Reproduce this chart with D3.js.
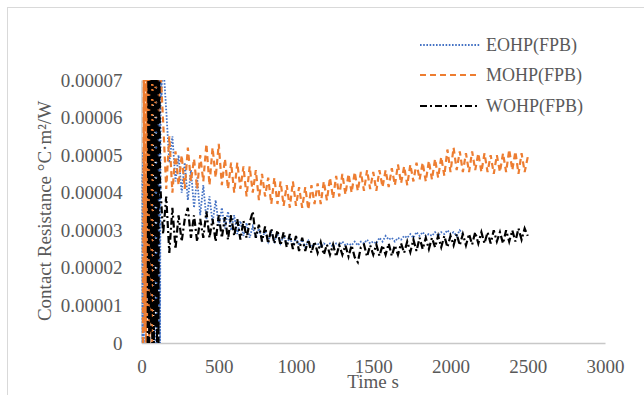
<!DOCTYPE html>
<html>
<head>
<meta charset="utf-8">
<script src="https://cdn.jsdelivr.net/npm/d3@7"></script>
<style>
  body { margin: 0; background: #fff; }
  svg { display: block; }
</style>
</head>
<body>
<div id="chart"></div>
<script>
// axis ticks
const xTicks = [0, 500, 1000, 1500, 2000, 2500, 3000];
const yTicks = [0, 0.00001, 0.00002, 0.00003, 0.00004, 0.00005, 0.00006, 0.00007];
const seriesNames = ["EOHP(FPB)", "MOHP(FPB)", "WOHP(FPB)"];

// values are read in units of 1e-5 °C·m²/W
const unit = 1e-5;

// start-up oscillation, sampled every 5 s
const earlyStep = 5;
const eohpEarlyStart = 0;
const eohpEarly = [4.5, 0, 5.1, 0, 4.2, 0.5, 3.5, 1, 4, 0.5, 3.8, 1, 4.2, 0.8, 3.6, 1.2, 4, 0.5,
  0, 8, 0, 8, 0.5, 8, 0, 8, 6.5, 8];
const mohpEarlyStart = 10;
const mohpEarly = [0, 8, 0.3, 8, 0, 8, 0.5, 8, 0, 8, 0.2, 8, 0, 8, 6.5, 8, 6, 8, 6.8, 8, 6, 8];
const wohpEarlyStart = 40;
const wohpEarly = [0, 8, 0, 8, 0.3, 8, 0, 8, 0, 8, 0.4, 8, 0, 8, 0, 8];

// rest of the run, sampled every 20 s
const tailStep = 20;
const eohpTailStart = 140;
const eohpTail = [
  7.5, 6.2, 4.8, 5.5, 4.3, 5.0, 4.0, 4.8, 3.8, 4.6,
  3.6, 4.4, 3.4, 4.2, 3.3, 3.9, 3.2, 3.8, 3.1, 3.6,
  3.05, 3.5, 3.0, 3.4, 2.9, 3.25, 2.85, 3.2, 2.8, 3.1,
  2.8, 3.05, 2.75, 3.0, 2.7, 2.95, 2.7, 2.9, 2.65, 2.85,
  2.65, 2.8, 2.6, 2.8, 2.6, 2.75, 2.55, 2.72, 2.55, 2.62,
  2.65, 2.55, 2.65, 2.6, 2.65, 2.55, 2.65, 2.6, 2.7, 2.6,
  2.65, 2.6, 2.7, 2.6, 2.7, 2.65, 2.75, 2.65, 2.7, 2.65,
  2.8, 2.7, 2.85, 2.75, 2.8, 2.7, 2.8, 2.75, 2.85, 2.8,
  2.9, 2.8, 2.95, 2.85, 2.95, 2.85, 2.9, 2.85, 2.95, 2.85,
  2.95, 2.9, 3.0, 2.9, 2.95, 2.85, 3.0, 2.9
];
const mohpTailStart = 120;
const mohpTail = [
  7.5, 5.9, 4.1, 5.5, 4.0, 5.1, 4.2, 5.0, 4.1, 5.2,
  4.3, 4.9, 4.1, 5.0, 4.3, 5.3, 4.2, 5.2, 4.4, 5.3,
  4.2, 4.9, 4.1, 4.8, 4.0, 4.8, 4.1, 4.7, 3.9, 4.7,
  4.0, 4.6, 3.8, 4.5, 3.9, 4.4, 3.7, 4.4, 3.7, 4.3,
  3.65, 4.2, 3.6, 4.3, 3.65, 4.15, 3.6, 4.15, 3.55, 4.2,
  3.7, 4.25, 3.7, 4.3, 3.8, 4.4, 3.85, 4.45, 3.9, 4.5,
  3.95, 4.5, 4.0, 4.55, 4.05, 4.55, 4.05, 4.6, 4.1, 4.55,
  4.05, 4.6, 4.15, 4.6, 4.15, 4.65, 4.2, 4.75, 4.25, 4.7,
  4.2, 4.75, 4.3, 4.8, 4.35, 4.8, 4.3, 4.85, 4.35, 4.9,
  4.4, 4.95, 4.45, 5.15, 4.55, 5.2, 4.6, 5.1, 4.55, 5.05,
  4.55, 5.1, 4.6, 5.05, 4.55, 5.05, 4.55, 5.0, 4.5, 5.0,
  4.55, 5.05, 4.55, 5.15, 4.6, 5.1, 4.5, 5.05, 4.55, 4.95
];
const wohpTailStart = 120;
const wohpTail = [
  4.3, 2.9, 3.9, 2.4, 3.6, 2.5, 3.4, 2.7, 3.3, 3.6,
  2.8, 3.4, 2.7, 3.3, 2.8, 3.5, 2.8, 3.3, 2.7, 3.4,
  2.8, 3.35, 2.75, 3.4, 2.85, 3.3, 2.75, 3.25, 2.8, 3.2,
  3.5, 2.8, 3.15, 2.7, 3.1, 2.65, 3.05, 2.65, 3.0, 2.6,
  2.95, 2.55, 2.9, 2.5, 2.85, 2.45, 2.8, 2.45, 2.75, 2.4,
  2.7, 2.4, 2.68, 2.35, 2.62, 2.35, 2.62, 2.3, 2.6, 2.35,
  2.6, 2.3, 2.6, 2.28, 2.15, 2.55, 2.62, 2.3, 2.6, 2.35,
  2.62, 2.32, 2.6, 2.35, 2.65, 2.32, 2.6, 2.35, 2.65, 2.4,
  2.7, 2.42, 2.75, 2.45, 2.8, 2.5, 2.8, 2.5, 2.8, 2.55,
  2.85, 2.55, 2.85, 2.55, 2.85, 2.6, 2.9, 2.6, 2.9, 2.6,
  2.9, 2.62, 2.95, 2.65, 2.95, 2.65, 2.95, 2.65, 3.0, 2.7,
  2.95, 2.65, 3.0, 2.7, 3.0, 2.7, 3.05, 2.75, 3.05, 2.85
];

const width = 644, height = 395;
const plot = { left: 141.5, right: 605, top: 80, bottom: 343 };
const font = "'Liberation Serif', 'Times New Roman', serif";
const textColor = "#595959";

function toPoints(earlyStart, early, tailStart, tail) {
  const a = early.map((v, i) => ({ t: earlyStart + i * earlyStep, v: v * unit }));
  const b = tail.map((v, i) => ({ t: tailStart + i * tailStep, v: v * unit }));
  return a.concat(b);
}

const series = [
  { name: seriesNames[0], color: "#4472C4", dash: "1.6,1.6", w: 1.8,
    data: toPoints(eohpEarlyStart, eohpEarly, eohpTailStart, eohpTail) },
  { name: seriesNames[1], color: "#ED7D31", dash: "6,4", w: 2.2,
    data: toPoints(mohpEarlyStart, mohpEarly, mohpTailStart, mohpTail) },
  { name: seriesNames[2], color: "#000000", dash: "7,3,2,3", w: 2.2,
    data: toPoints(wohpEarlyStart, wohpEarly, wohpTailStart, wohpTail) }
];

const svg = d3.select("#chart").append("svg")
  .attr("width", width)
  .attr("height", height)
  .style("font-family", font);

// chart area border (right and bottom edges fall outside the picture)
svg.append("rect")
  .attr("x", 7.5).attr("y", 7.5)
  .attr("width", 700).attr("height", 500)
  .attr("fill", "#fff")
  .attr("stroke", "#D9D9D9");

const x = d3.scaleLinear().domain([0, 3000]).range([plot.left, plot.right]);
const y = d3.scaleLinear().domain([0, 0.00007]).range([plot.bottom, plot.top]);

svg.append("defs").append("clipPath").attr("id", "clip")
  .append("rect")
  .attr("x", plot.left).attr("y", plot.top)
  .attr("width", plot.right - plot.left).attr("height", plot.bottom - plot.top);

const xAxis = svg.append("g")
  .attr("transform", `translate(0,${plot.bottom})`)
  .call(d3.axisBottom(x).tickValues(xTicks).tickSize(0).tickPadding(17).tickFormat(d3.format("d")));
const yAxis = svg.append("g")
  .attr("transform", `translate(${plot.left},0)`)
  .call(d3.axisLeft(y).tickValues(yTicks).tickSize(0).tickPadding(19)
    .tickFormat(d => d === 0 ? "0" : d.toFixed(5)));

[xAxis, yAxis].forEach(g => {
  g.select(".domain").attr("stroke", "#C8C8C8").attr("stroke-width", 1.5);
  g.selectAll("text")
    .attr("fill", textColor)
    .style("font-family", font)
    .style("font-size", "19px");
});

const line = d3.line()
  .x(d => x(d.t))
  .y(d => y(d.v));

const lines = svg.append("g").attr("clip-path", "url(#clip)");
series.forEach(s => {
  lines.append("path")
    .datum(s.data)
    .attr("fill", "none")
    .attr("stroke", s.color)
    .attr("stroke-width", s.w)
    .attr("stroke-dasharray", s.dash)
    .attr("d", line);
});

// axis titles
svg.append("text")
  .attr("x", 373).attr("y", 388)
  .attr("text-anchor", "middle")
  .attr("fill", textColor)
  .style("font-size", "19px")
  .text("Time s");

svg.append("text")
  .attr("transform", "translate(51,211) rotate(-90)")
  .attr("text-anchor", "middle")
  .attr("fill", textColor)
  .style("font-size", "19px")
  .text("Contact Resistance °C·m²/W");

// legend
const legendRows = [45, 75, 106];
const legend = svg.append("g");
series.forEach((s, i) => {
  legend.append("line")
    .attr("x1", 420).attr("x2", 480)
    .attr("y1", legendRows[i]).attr("y2", legendRows[i])
    .attr("stroke", s.color)
    .attr("stroke-width", s.w)
    .attr("stroke-dasharray", s.dash);
  legend.append("text")
    .attr("x", 486).attr("y", legendRows[i])
    .attr("dy", "0.35em")
    .attr("fill", textColor)
    .style("font-size", "18px")
    .text(s.name);
});
</script>
</body>
</html>
